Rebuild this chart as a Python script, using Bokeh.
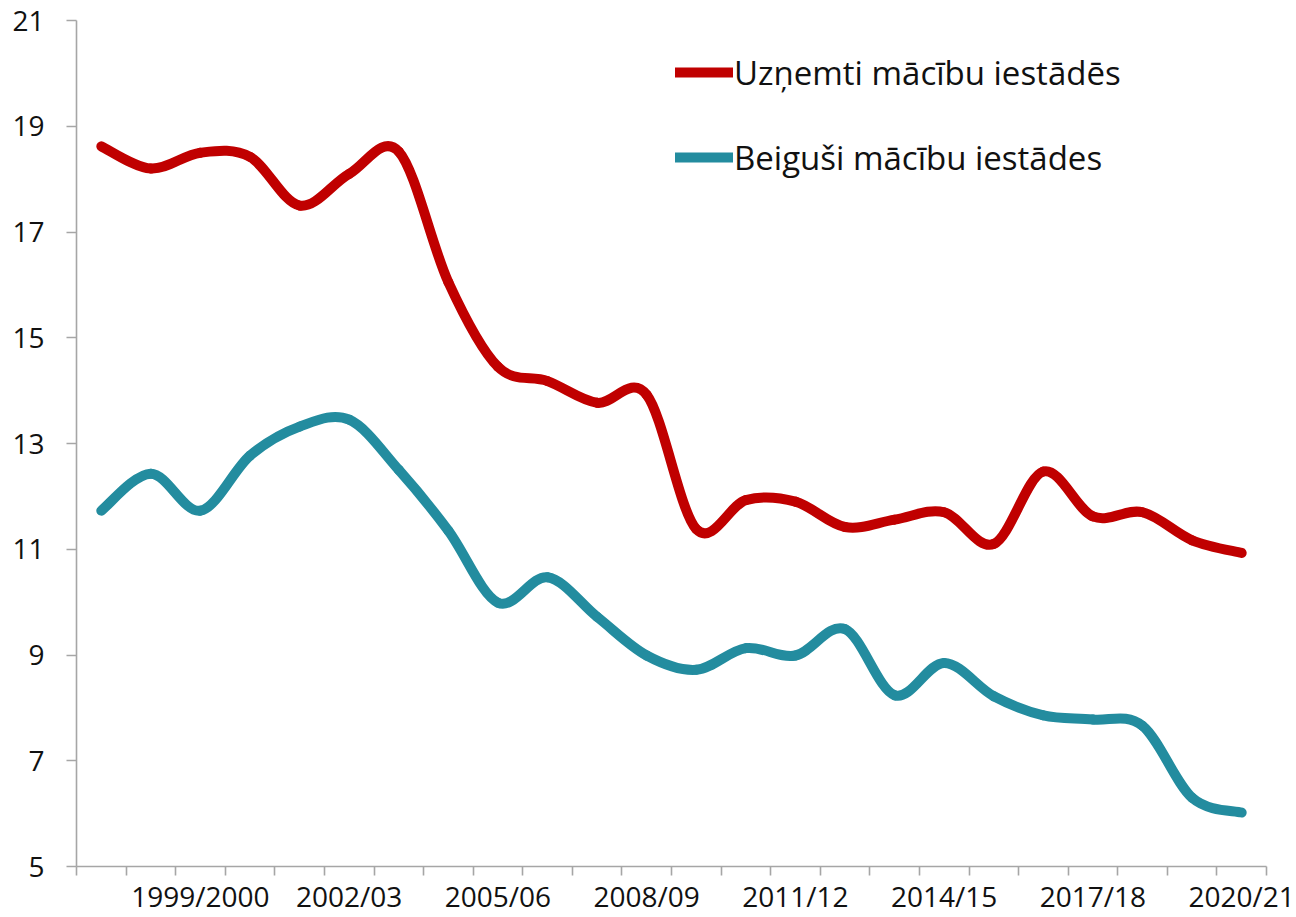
from bokeh.plotting import figure
from bokeh.models import FixedTicker, Legend, LegendItem, ColumnDataSource, Range1d
from bokeh.embed import file_html
from bokeh.resources import INLINE

# ---- data ----
years = ["1997/98", "1998/99", "1999/2000", "2000/01", "2001/02", "2002/03",
         "2003/04", "2004/05", "2005/06", "2006/07", "2007/08", "2008/09",
         "2009/10", "2010/11", "2011/12", "2012/13", "2013/14", "2014/15",
         "2015/16", "2016/17", "2017/18", "2018/19", "2019/20", "2020/21"]
admitted = [18.62, 18.2, 18.5, 18.42, 17.5, 18.1, 18.52, 16.05, 14.45, 14.18,
            13.77, 13.92, 11.38, 11.93, 11.9, 11.42, 11.56, 11.7, 11.1, 12.47,
            11.62, 11.7, 11.17, 10.93]
graduated = [11.73, 12.43, 11.73, 12.77, 13.32, 13.45, 12.5, 11.35, 9.99, 10.47,
             9.72, 8.99, 8.72, 9.13, 8.99, 9.49, 8.24, 8.85, 8.22, 7.86,
             7.78, 7.66, 6.3, 6.02]
series_names = ["Uzņemti mācību iestādēs", "Beiguši mācību iestādes"]
colors = ["#C00000", "#238C9F"]
y_ticks = [5, 7, 9, 11, 13, 15, 17, 19, 21]
label_every = 3
label_start = 2

FONT = "Open Sans"


def smooth_segments(vals):
    """Cubic Bezier segments through the points (Excel-style smoothing)."""
    n = len(vals)
    xs = list(range(n))
    d = dict(x0=[], y0=[], x1=[], y1=[], cx0=[], cy0=[], cx1=[], cy1=[])
    for i in range(n - 1):
        p0 = i - 1 if i > 0 else i
        p3 = i + 2 if i + 2 < n else i + 1
        d["x0"].append(xs[i]); d["y0"].append(vals[i])
        d["x1"].append(xs[i + 1]); d["y1"].append(vals[i + 1])
        d["cx0"].append(xs[i] + (xs[i + 1] - xs[p0]) / 6.0)
        d["cy0"].append(vals[i] + (vals[i + 1] - vals[p0]) / 6.0)
        d["cx1"].append(xs[i + 1] - (xs[p3] - xs[i]) / 6.0)
        d["cy1"].append(vals[i + 1] - (vals[p3] - vals[i]) / 6.0)
    return ColumnDataSource(d)


n = len(years)
p = figure(width=1296, height=917, output_backend="svg", toolbar_location=None,
           x_range=Range1d(-0.5, n - 0.5), y_range=Range1d(5, 21),
           min_border_left=76, min_border_right=30, min_border_top=20,
           min_border_bottom=51)
p.outline_line_color = None
p.xgrid.visible = False
p.ygrid.visible = False
p.background_fill_color = "white"
p.border_fill_color = "white"

items = []
for vals, name, col in zip([admitted, graduated], series_names, colors):
    src = smooth_segments(vals)
    r = p.bezier(x0="x0", y0="y0", x1="x1", y1="y1", cx0="cx0", cy0="cy0",
                 cx1="cx1", cy1="cy1", source=src, line_color=col,
                 line_width=10, line_cap="round", line_join="round")
    items.append(LegendItem(label=name, renderers=[r]))

legend = Legend(items=items, location=(599, 686), orientation="vertical",
                label_text_font=FONT, label_text_font_size="33px",
                label_text_color="#111111", glyph_width=58, glyph_height=46,
                label_height=46, label_standoff=1, spacing=39, padding=0,
                margin=0, border_line_alpha=0, background_fill_alpha=0)
p.add_layout(legend, "center")

# x axis
major = list(range(label_start, n, label_every))
p.xaxis.ticker = FixedTicker(ticks=major,
                             minor_ticks=[i - 0.5 for i in range(n + 1)])
p.xaxis.major_label_overrides = {i: years[i] for i in major}
p.xaxis.major_tick_out = 0
p.xaxis.major_tick_in = 0
p.xaxis.minor_tick_out = 9
p.xaxis.minor_tick_in = 0
p.xaxis.major_label_standoff = 1

# y axis
p.yaxis.ticker = FixedTicker(ticks=y_ticks, minor_ticks=[])
p.yaxis.major_tick_out = 10
p.yaxis.major_tick_in = 0
p.yaxis.major_label_standoff = 22

for ax in (p.xaxis, p.yaxis):
    ax.axis_line_color = "#A6A6A6"
    ax.axis_line_width = 1.6
    ax.major_tick_line_color = "#A6A6A6"
    ax.major_tick_line_width = 1.6
    ax.minor_tick_line_color = "#A6A6A6"
    ax.minor_tick_line_width = 1.6
    ax.major_label_text_font = FONT
    ax.major_label_text_font_size = "28px"
    ax.major_label_text_color = "#111111"
p.yaxis.minor_tick_line_color = None

open("out.html", "w").write(file_html(p, INLINE))
